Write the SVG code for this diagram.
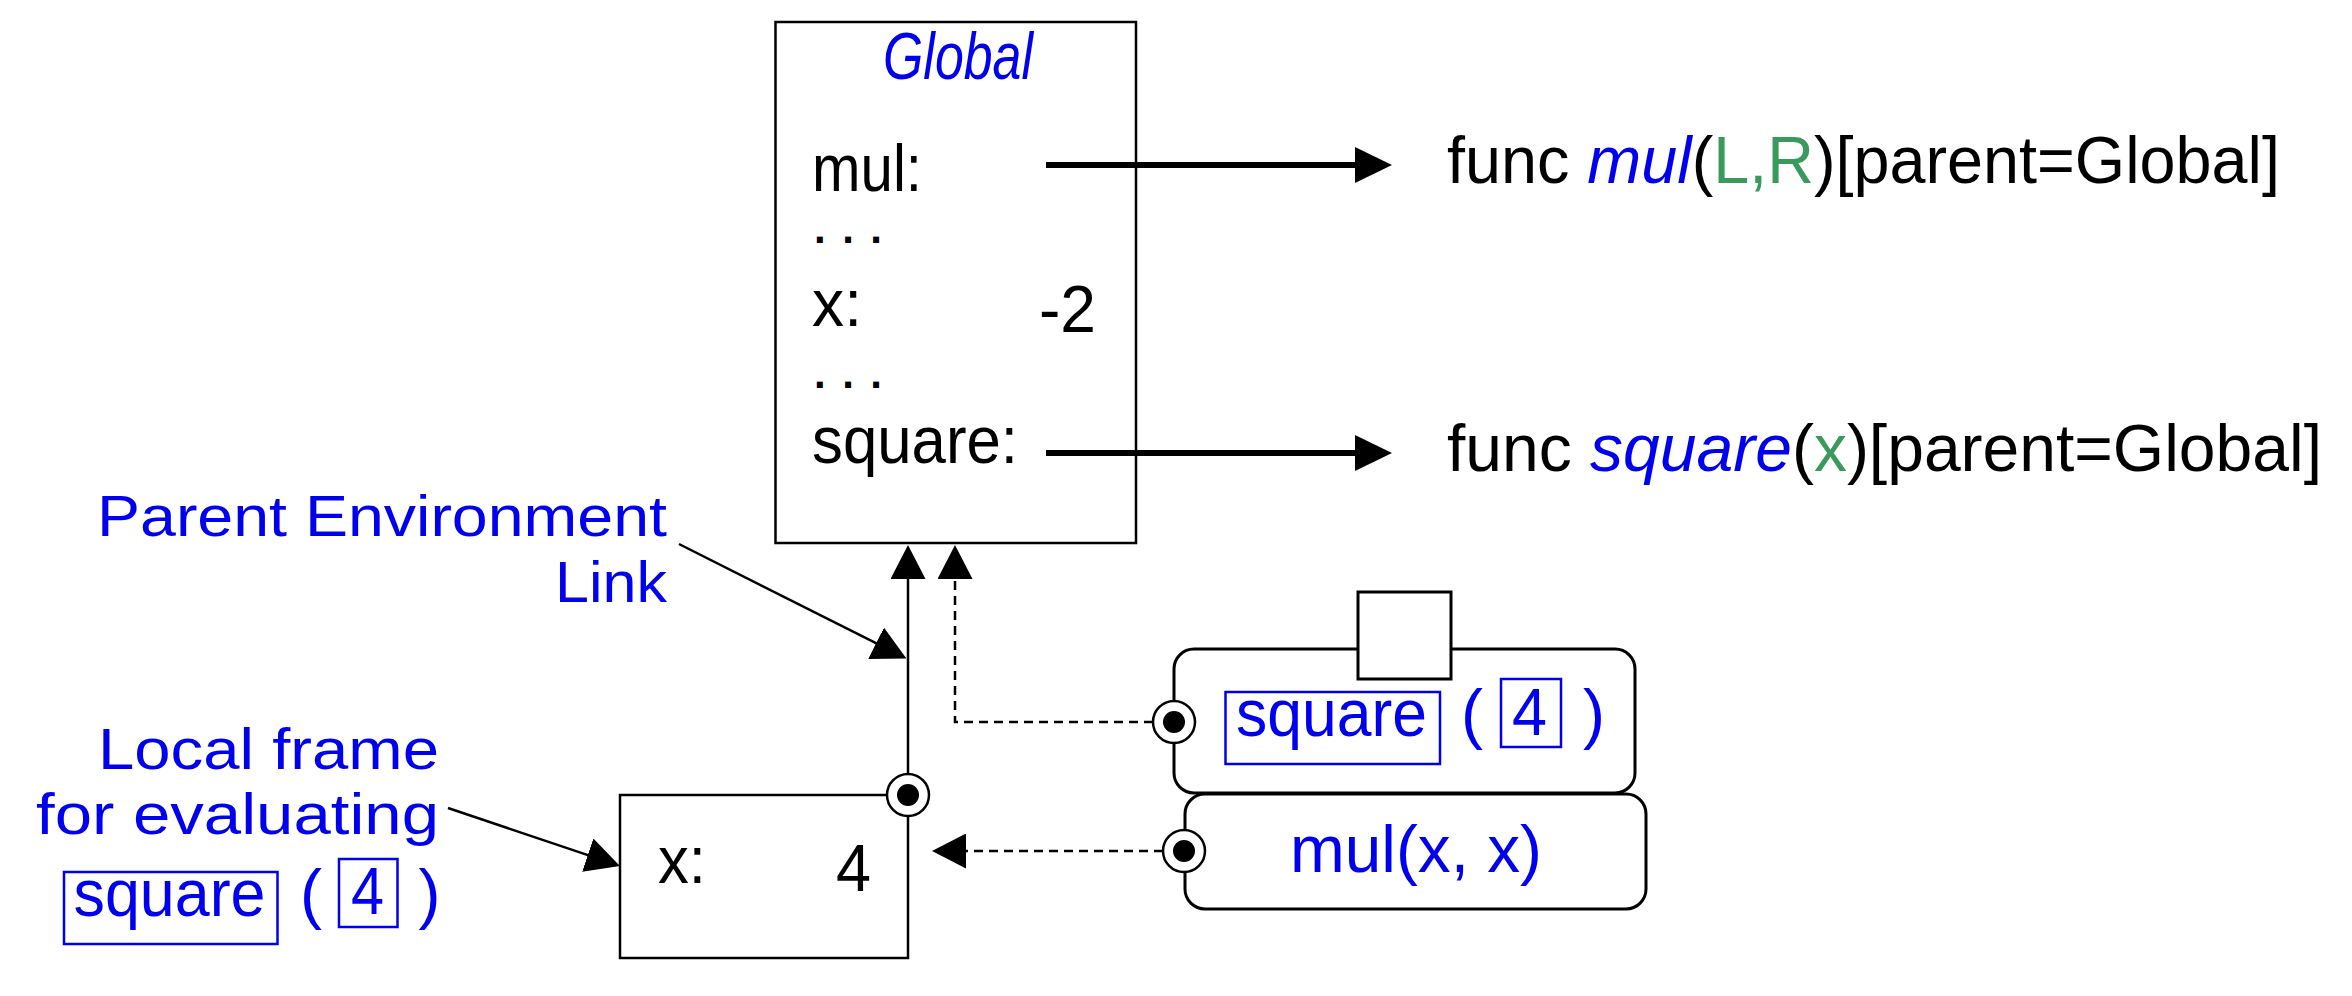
<svg xmlns="http://www.w3.org/2000/svg" width="2352" height="996" viewBox="0 0 2352 996">
<style>
text{font-family:"Liberation Sans","DejaVu Sans",sans-serif;font-size:66px;fill:#000}
.b{fill:#0000ee}
.g{fill:#3a9a5c}
.i{font-style:italic}
.lbl{font-size:58px}
.dots{font-size:42px;font-weight:bold}
.frame{fill:#fff;stroke:#000;stroke-width:2.5}
.obj{fill:#fff;stroke:#000;stroke-width:3}
.hl{fill:none;stroke:#0000ee;stroke-width:2.5}
.thick{fill:none;stroke:#000;stroke-width:6}
.thin{fill:none;stroke:#000;stroke-width:2.5}
.dash{fill:none;stroke:#000;stroke-width:2.5;stroke-dasharray:9 6}
.ring{fill:#fff;stroke:#000;stroke-width:2.5}
</style>
<defs>
<marker id="ahBig" markerUnits="userSpaceOnUse" markerWidth="37" markerHeight="36" viewBox="0 0 37 36" refX="1" refY="18" orient="auto"><path d="M0,0 L37,18 L0,36 z" fill="#000" stroke="none"/></marker>
<marker id="ah" markerUnits="userSpaceOnUse" markerWidth="34" markerHeight="35" viewBox="0 0 34 35" refX="1" refY="17.5" orient="auto"><path d="M0,0 L34,17.5 L0,35 z" fill="#000" stroke="none"/></marker>
</defs>
<rect width="2352" height="996" fill="#fff"/>

<g id="global-frame">
<rect class="frame" x="775.5" y="22" width="360.5" height="521"/>
<text class="b i" x="958" y="79" text-anchor="middle" font-size="58" textLength="150" lengthAdjust="spacingAndGlyphs">Global</text>
<text x="812" y="191" textLength="110" lengthAdjust="spacingAndGlyphs">mul:</text>
<text class="dots" x="814" y="243" textLength="68" lengthAdjust="spacing">. . .</text>
<text x="812" y="326" textLength="50" lengthAdjust="spacingAndGlyphs">x:</text>
<text x="1039" y="332" textLength="57" lengthAdjust="spacingAndGlyphs">-2</text>
<text class="dots" x="814" y="388" textLength="68" lengthAdjust="spacing">. . .</text>
<text x="812" y="463" textLength="206" lengthAdjust="spacingAndGlyphs">square:</text>
</g>

<g id="func-mul">
<text x="1447" y="183" textLength="833" lengthAdjust="spacingAndGlyphs">func <tspan class="b i">mul</tspan>(<tspan class="g">L,R</tspan>)[parent=Global]</text>
</g>

<g id="func-square">
<text x="1447" y="471" textLength="875" lengthAdjust="spacingAndGlyphs">func <tspan class="b i">square</tspan>(<tspan class="g">x</tspan>)[parent=Global]</text>
</g>

<g id="label-parent">
<text class="b lbl" x="667" y="536" text-anchor="end" textLength="570" lengthAdjust="spacingAndGlyphs">Parent Environment</text>
<text class="b lbl" x="667" y="602" text-anchor="end" textLength="112" lengthAdjust="spacingAndGlyphs">Link</text>
</g>

<g id="label-local">
<text class="b lbl" x="439" y="769" text-anchor="end" textLength="341" lengthAdjust="spacingAndGlyphs">Local frame</text>
<text class="b lbl" x="439" y="834" text-anchor="end" textLength="403" lengthAdjust="spacingAndGlyphs">for evaluating</text>
<rect class="hl" x="64" y="872" width="213.5" height="72"/>
<text class="b" x="73.5" y="916" textLength="192" lengthAdjust="spacingAndGlyphs">square</text>
<text class="b" x="300" y="916">(</text>
<rect class="hl" x="339" y="859" width="58.5" height="68"/>
<text class="b" x="351" y="914" textLength="33" lengthAdjust="spacingAndGlyphs">4</text>
<text class="b" x="418.5" y="916">)</text>
</g>

<g id="local-frame">
<rect class="frame" x="620" y="795" width="288" height="163"/>
<text x="658" y="883" textLength="48" lengthAdjust="spacingAndGlyphs">x:</text>
<text x="836" y="891" textLength="35" lengthAdjust="spacingAndGlyphs">4</text>
</g>

<g id="call-square">
<rect class="obj" x="1174" y="649" width="461" height="144" rx="20" ry="20"/>
<rect class="obj" x="1358" y="592" width="93" height="87"/>
<rect class="hl" x="1225.5" y="692" width="214.5" height="72"/>
<text class="b" x="1236" y="736" textLength="191" lengthAdjust="spacingAndGlyphs">square</text>
<text class="b" x="1461" y="736">(</text>
<rect class="hl" x="1501" y="679" width="60" height="68"/>
<text class="b" x="1512" y="735" textLength="35" lengthAdjust="spacingAndGlyphs">4</text>
<text class="b" x="1583" y="736">)</text>
</g>

<g id="call-mul">
<rect class="obj" x="1185" y="794" width="461" height="115" rx="20" ry="20"/>
<text class="b" x="1290" y="872" textLength="252" lengthAdjust="spacingAndGlyphs">mul(x, x)</text>
</g>

<g id="connectors">
<line class="thick" x1="1046" y1="165" x2="1356" y2="165" marker-end="url(#ahBig)"/>
<line class="thick" x1="1046" y1="453" x2="1356" y2="453" marker-end="url(#ahBig)"/>
<line class="thin" x1="679" y1="544" x2="877" y2="643.7" marker-end="url(#ah)"/>
<line class="thin" x1="448" y1="808" x2="588.7" y2="855.4" marker-end="url(#ah)"/>
<line class="thin" x1="908" y1="774" x2="908" y2="578" marker-end="url(#ah)"/>
<polyline class="dash" points="1153,722 955,722 955,578" marker-end="url(#ah)"/>
<line class="dash" x1="1163" y1="851" x2="965" y2="851" marker-end="url(#ah)"/>
<circle class="ring" cx="908" cy="795" r="21"/>
<circle cx="908" cy="795" r="11" fill="#000"/>
<circle class="ring" cx="1174" cy="722" r="21"/>
<circle cx="1174" cy="722" r="11" fill="#000"/>
<circle class="ring" cx="1184" cy="851" r="21"/>
<circle cx="1184" cy="851" r="11" fill="#000"/>
</g>
</svg>
